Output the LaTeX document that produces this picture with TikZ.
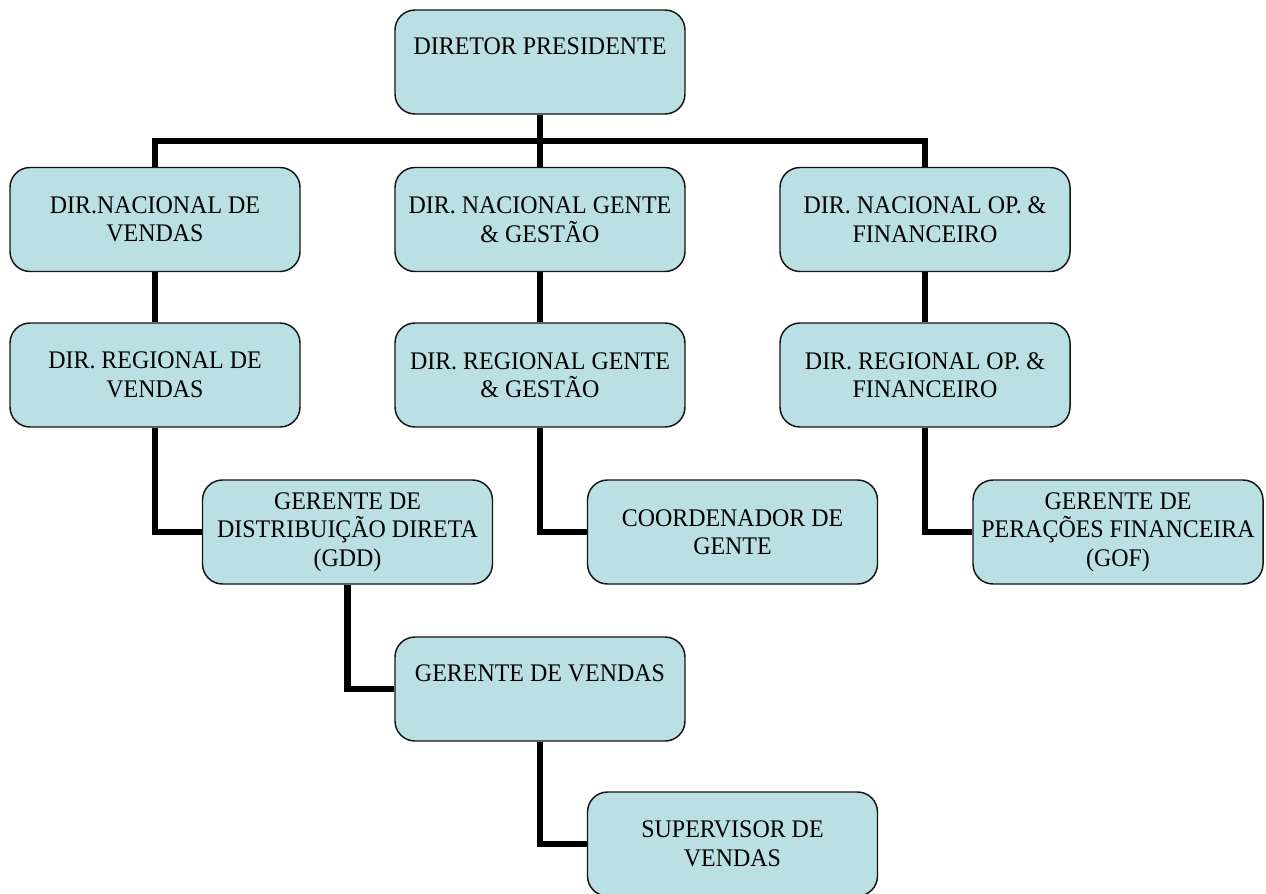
\documentclass[tikz,border=0pt]{standalone}
\usepackage{fontspec}
\setmainfont{Liberation Serif}[FakeStretch=0.945]
\usetikzlibrary{backgrounds}
\definecolor{boxfill}{RGB}{186,224,227}
\definecolor{boxline}{RGB}{20,20,20}
\tikzset{
  orgbox/.style={draw=boxline, line width=1.1pt, fill=boxfill, rounded corners=15pt,
    minimum width=217.5pt, minimum height=78pt, inner sep=2pt, align=center,
    font=\fontsize{19}{21.4}\selectfont},
  link/.style={line width=4.9pt, black, line join=miter}
}
\begin{document}
\begin{tikzpicture}[x=0.75pt, y=-0.75pt]
\useasboundingbox (0,0) rectangle (1266,893);
\node[orgbox] (dp) at (540,62) {DIRETOR PRESIDENTE\\[-4pt] \strut};
\node[orgbox] (nA) at (155,219.5) {DIR.NACIONAL DE\\VENDAS};
\node[orgbox] (nB) at (540,219.5) {DIR. NACIONAL GENTE\\\& GESTÃO};
\node[orgbox] (nC) at (925,219.5) {DIR. NACIONAL OP. \&\\FINANCEIRO};
\node[orgbox] (rA) at (155,375) {DIR. REGIONAL DE\\VENDAS};
\node[orgbox] (rB) at (540,375) {DIR. REGIONAL GENTE\\\& GESTÃO};
\node[orgbox] (rC) at (925,375) {DIR. REGIONAL OP. \&\\FINANCEIRO};
\node[orgbox] (gdd) at (347.5,532) {GERENTE DE\\DISTRIBUIÇÃO DIRETA\\(GDD)};
\node[orgbox] (cg) at (732.5,532) {COORDENADOR DE\\GENTE};
\node[orgbox] (gof) at (1118,532) {GERENTE DE\\PERAÇÕES FINANCEIRA\\(GOF)};
\node[orgbox] (gv) at (540,689) {GERENTE DE VENDAS\\[-4pt] \strut};
\node[orgbox] (sv) at (732.5,844) {SUPERVISOR DE\\VENDAS};
\coordinate (bus) at (540,141);
\begin{scope}[on background layer]
\draw[link] (dp.south) -- (nB.north);
\draw[link] (nA.north) |- (bus) -| (nC.north);
\draw[link] (nA.south) -- (rA.north);
\draw[link] (nB.south) -- (rB.north);
\draw[link] (nC.south) -- (rC.north);
\draw[link] (rA.south) |- (gdd.west);
\draw[link] (rB.south) |- (cg.west);
\draw[link] (rC.south) |- (gof.west);
\draw[link] (gdd.south) |- (gv.west);
\draw[link] (gv.south) |- (sv.west);
\end{scope}
\end{tikzpicture}
\end{document}
